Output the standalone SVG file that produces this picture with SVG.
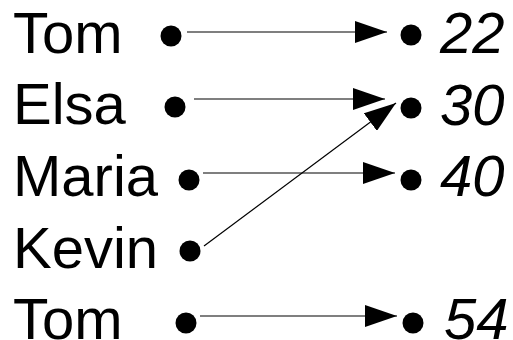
<svg xmlns="http://www.w3.org/2000/svg" width="513" height="340" viewBox="0 0 513 340">
  <defs>
    <marker id="arrow" viewBox="0 0 32 22" refX="32" refY="11" markerWidth="32" markerHeight="22" markerUnits="userSpaceOnUse" orient="auto">
      <path d="M0,0 L32,11 L0,22 Z" fill="#000"/>
    </marker>
    <style>
      .name { font-family: "Liberation Sans", Arial, sans-serif; font-size: 58px; fill: #000; }
      .age { font-family: "Liberation Sans", Arial, sans-serif; font-size: 58px; font-style: italic; fill: #000; }
      .dot { fill: #000; }
      .link { stroke: #000; stroke-width: 1.2; fill: none; marker-end: url(#arrow); }
    </style>
  </defs>
  <rect width="513" height="340" fill="#fff"/>

  <!-- names -->
  <g id="name-tom1"><text class="name" x="13" y="53">Tom</text><circle class="dot" cx="171" cy="36" r="10.5"/></g>
  <g id="name-elsa"><text class="name" x="13" y="124">Elsa</text><circle class="dot" cx="175" cy="107" r="10.5"/></g>
  <g id="name-maria"><text class="name" x="13" y="196">Maria</text><circle class="dot" cx="189" cy="180" r="10.5"/></g>
  <g id="name-kevin"><text class="name" x="13" y="268">Kevin</text><circle class="dot" cx="190" cy="251" r="10.5"/></g>
  <g id="name-tom2"><text class="name" x="13" y="339">Tom</text><circle class="dot" cx="186" cy="323" r="10.5"/></g>

  <!-- ages -->
  <g id="age-22"><circle class="dot" cx="411" cy="35" r="10.5"/><text class="age" x="440" y="53">22</text></g>
  <g id="age-30"><circle class="dot" cx="411" cy="108" r="10.5"/><text class="age" x="440" y="125">30</text></g>
  <g id="age-40"><circle class="dot" cx="411" cy="180" r="10.5"/><text class="age" x="440" y="196">40</text></g>
  <g id="age-54"><circle class="dot" cx="413" cy="323" r="10.5"/><text class="age" x="444" y="339">54</text></g>

  <!-- mappings -->
  <g id="connectors">
    <line class="link" x1="187" y1="32" x2="387" y2="32"/>
    <line class="link" x1="194" y1="99" x2="385" y2="99"/>
    <line class="link" x1="203" y1="173" x2="395" y2="173"/>
    <line class="link" x1="204" y1="246" x2="396" y2="103"/>
    <line class="link" x1="200" y1="316" x2="397" y2="316"/>
  </g>
</svg>
